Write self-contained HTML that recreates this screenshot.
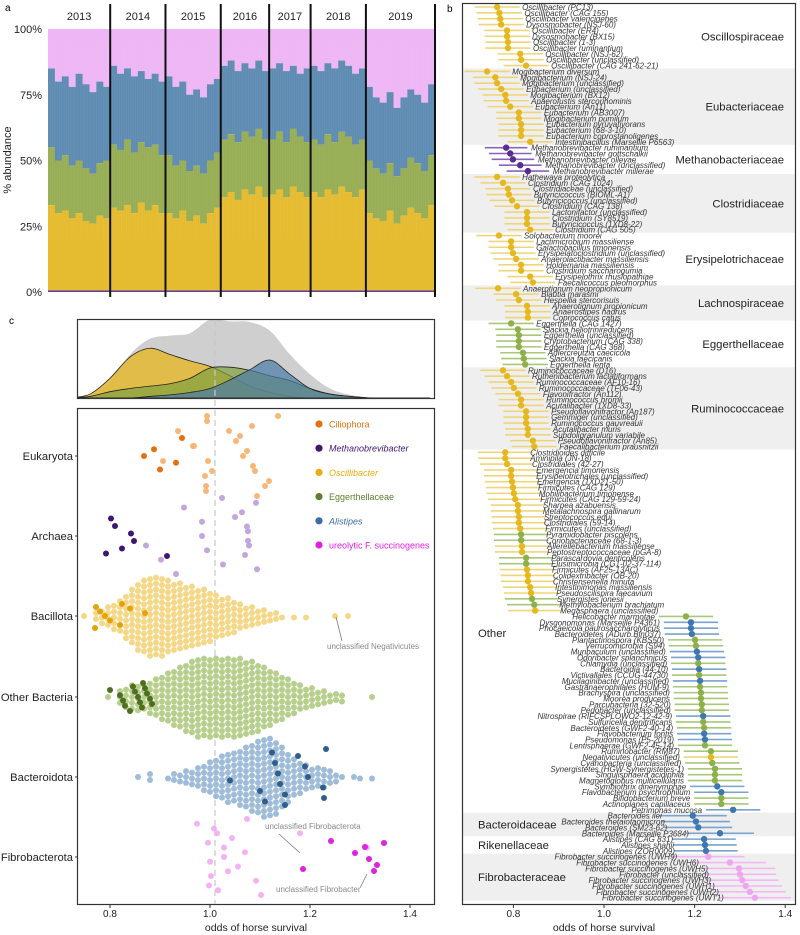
<!DOCTYPE html>
<html><head><meta charset="utf-8"><style>
html,body{margin:0;padding:0;background:#fff}
svg{display:block;font-family:"Liberation Sans",sans-serif}
</style></head><body>
<svg id="fig" width="800" height="935" viewBox="0 0 800 935" xmlns="http://www.w3.org/2000/svg">
<text x="5" y="11" font-size="10">a</text>
<text x="447" y="12" font-size="10">b</text>
<text x="9" y="324" font-size="10">c</text>
<g id="pa"></g>
<g id="pb"></g>
<g id="pc"></g>
</svg>
<script>
// ---------- Panel a data ----------
const years = ['2013','2014','2015','2016','2017','2018','2019'];
const yearSamples = [9,8,8,7,6,8,10];
const yellowTop = [33,30,31,28,30,27,26,29,28, 32,31,33,30,34,31,33,30, 30,28,31,27,29,26,30,32, 36,38,35,39,37,40,36, 37,39,36,40,38,36, 38,36,39,37,40,38,36,39, 30,28,27,31,26,29,32,30,28,33];
const greenTop = [55,50,52,48,50,47,45,49,50, 56,54,58,53,57,55,56,52, 52,48,50,46,48,45,50,53, 58,60,57,61,59,62,58, 58,61,57,62,59,57, 58,56,60,57,61,59,56,58, 50,47,45,49,44,47,51,49,46,52];
const blueTop = [85,80,82,78,83,79,76,80,78, 86,83,85,82,84,81,83,80, 82,78,80,75,77,74,79,81, 86,88,84,87,85,88,84, 85,87,84,86,83,85, 86,84,87,85,88,86,83,85, 78,74,72,76,70,74,77,75,72,79];
const pctTicks = ['0%','25%','50%','75%','100%'];

// ---------- Panel b data ----------
const bGroups = ['Oscillospiraceae','Eubacteriaceae','Methanobacteriaceae','Clostridiaceae','Erysipelotrichaceae','Lachnospiraceae','Eggerthellaceae','Ruminococcaceae','Other','Bacteroidaceae','Rikenellaceae','Fibrobacteraceae'];
const bGroupCounts = [11,13,5,10,9,6,8,14,62,4,3,8];
const bGroupCI = [0.05,0.05,0.047,0.05,0.05,0.05,0.05,0.05,0.06,0.075,0.07,0.08];
const bNames = ['Oscillibacter (PC13)','Oscillibacter (CAG 155)','Oscillibacter valericigenes','Dysosmobacter (NSJ-60)','Oscillibacter (ER4)','Dysosmobacter (BX15)','Oscillibacter (1-3)','Oscillibacter ruminantium','Oscillibacter (NSJ-62)','Oscillibacter (unclassified)','Oscillibacter (CAG 241-62-21)',
'Mogibacterium diversum','Mogibacterium (NSJ-24)','Mogibacterium (unclassified)','Eubacterium (unclassified)','Mogibacterium (BX12)','Anaerofustis stercorihominis','Eubacterium (An11)','Eubacterium (AB3007)','Mogibacterium pumilum','Eubacterium pyruvativorans','Eubacterium (68-3-10)','Eubacterium coprostanoligenes','Intestinibacillus (Marseille P6563)',
'Methanobrevibacter ruminantium','Methanobrevibacter gottschalkii','Methanobrevibacter olleyae','Methanobrevibacter (unclassified)','Methanobrevibacter millerae',
'Hathewaya proteolytica','Clostridium (CAG 1024)','Clostridiaceae (unclassified)','Butyricicoccus (BIOML-A1)','Butyricicoccus (unclassified)','Clostridium (CAG 138)','Lactonifactor (unclassified)','Clostridium (SY8519)','Butyricicoccus (1XD8-22)','Clostridium (CAG 505)',
'Solobacterium moorei','Lactimicrobium massiliense','Galactobacillus timonensis','Erysipelatoclostridium (unclassified)','Anaerolactibacter massiliensis','Holdemania massiliensis','Clostridium saccharogumia','Erysipelothrix rhusiopathiae','Faecalicoccus pleomorphus',
'Anaerotignum neopropionicum','Blautia marasmi','Hespellia stercorisuis','Anaerotignum propionicum','Anaerostipes hadrus','Coprococcus catus',
'Eggerthella (CAG 1427)','Slackia heliotrinireducens','Eggerthella (unclassified)','Cryptobacterium (CAG 338)','Eggerthella (CAG 368)','Adlercreutzia caecicola','Slackia faecicanis','Eggerthella lenta',
'Ruminococcaceae (D16)','Ruthenibacterium lactatiformans','Ruminococcaceae (AF10-16)','Ruminococcaceae (TF06-43)','Flavonifractor (An112)','Ruminococcus bromii','Acutalibacter (1XD8-33)','Pseudoflavonifractor (An187)','Gemmiger (unclassified)','Ruminococcus gauvreauii','Acutalibacter muris','Subdoligranulum variabile','Pseudoflavonifractor (An85)','Faecalibacterium prausnitzii',
'Clostridioides difficile','Aminipila (JN-18)','Clostridiales (42-27)','Emergencia timonensis','Erysipelotrichales (unclassified)','Emergencia (1XD21-50)','Firmicutes (CAG 129)','Mobilibacterium timonense','Firmicutes (CAG 129-59-24)','Sharpea azabuensis','Metalachnospira gallinarum','Streptococcus equi','Clostridiales (59-14)','Firmicutes (unclassified)','Pyramidobacter piscolens','Coriobacteriaceae (68-1-3)','Allerellebacterium massiliense','Peptostreptococcaceae (pGA-8)','Parascardovia denticolens','Elusimicrobia (CG1-02-37-114)','Firmicutes (AF25-13AC)','Colidextribacter (OB-20)','Christensenella minuta','Intestinimonas massiliensis','Pseudoscilispira faecavium','Synergistes jonesii','Methylobacterium brachiatum','Megasphaera (unclassified)',
'Helicobacter marmotae','Dysgonomonas (Marseille P4361)','Phocaeicola paurosaccharolyticus','Bacteroidetes (ADurb.Bin037)','Plantactinospora (KBS50)','Verrucomicrobia (S94)','Muribaculum (unclassified)','Odoribacter splanchnicus','Chlamydia (unclassified)','Bacteroidia (44-10)','Victivallales (CCUG-44730)','Mucilaginibacter (unclassified)','Gastranaerophilales (HUM-9)','Brachyspira (unclassified)','Moorea producens','Parcubacteria (32-520)','Pedobacter (unclassified)','Nitrospirae (RIFCSPLOWO2-12-42-9)','Sulfuricella denitrificans','Bacteroidetes (GWF2-40-14)','Flavobacterium fontis','Pseudomonas (P5-2019)','Lentisphaerae (GWF2-45-14)','Ruminobacter (RM87)','Negativicutes (unclassified)','Cyanobacteria (unclassified)','Synergistetes (HGW-Synergistetes-1)','Singulisphaera acidiphila','Magnetoglobus multicellularis','Symbiothrix dinenymphae','Flavobacterium psychrophilum','Bifidobacterium breve','Actinoplanes capillaceus','Petrimonas mucosa',
'Bacteroides ilei','Bacteroides thetaiotaomicron','Bacteroides (SM23-62)','Bacteroides (Marseille P3684)',
'Alistipes (CAG 831)','Alistipes shahii','Alistipes (ZOR0009)',
'Fibrobacter succinogenes (UWH9)','Fibrobacter succinogenes (UWH6)','Fibrobacter succinogenes (UWH5)','Fibrobacter (unclassified)','Fibrobacter succinogenes (UWH3)','Fibrobacter succinogenes (UWH1)','Fibrobacter succinogenes (UWH2)','Fibrobacter succinogenes (UWT1)'];
const bEst = [0.764,0.769,0.771,0.773,0.786,0.786,0.788,0.788,0.815,0.817,0.828,
0.742,0.760,0.764,0.773,0.782,0.784,0.793,0.812,0.812,0.817,0.817,0.817,0.837,
0.784,0.793,0.799,0.815,0.832,
0.764,0.777,0.788,0.790,0.797,0.808,0.830,0.830,0.830,0.837,
0.768,0.795,0.795,0.799,0.806,0.817,0.817,0.837,0.843,
0.766,0.806,0.812,0.830,0.832,0.832,
0.795,0.810,0.812,0.812,0.812,0.821,0.823,0.826,
0.777,0.786,0.795,0.801,0.810,0.817,0.817,0.828,0.828,0.828,0.832,0.832,0.843,0.846,
0.782,0.782,0.786,0.795,0.795,0.797,0.799,0.801,0.804,0.810,0.810,0.812,0.812,0.815,0.817,0.817,0.819,0.819,0.828,0.828,0.830,0.832,0.832,0.837,0.839,0.841,0.846,0.848,
1.181,1.192,1.192,1.194,1.201,1.203,1.205,1.208,1.208,1.210,1.210,1.212,1.212,1.214,1.214,1.216,1.216,1.219,1.219,1.221,1.221,1.223,1.223,1.236,1.236,1.239,1.245,1.245,1.245,1.250,1.259,1.259,1.259,1.285,
1.196,1.203,1.208,1.256,
1.221,1.223,1.225,
1.230,1.278,1.298,1.300,1.305,1.313,1.322,1.333];
const bCol = 'yyyyyyyyyyy'+'yyyyyyyyyyyyy'+'ppppp'+'yyyyyyyyyy'+'yyyyyyyyy'+'yyyyyy'+'gggggggg'+'yyyyyyyyyyyyyy'+
'yyyyyyyyyyyyyyggyyggyyyyyggy'+'gbbbggbbgbgbgggggbggbbggyggggbbggb'+'bbbb'+'bbb'+'mmmmmmmm';
const bTicks = [0.8,1.0,1.2,1.4];

// ---------- Panel c data ----------
const densGrid = [0.72,0.76,0.80,0.84,0.88,0.92,0.96,1.00,1.04,1.08,1.12,1.16,1.20,1.24,1.28,1.32,1.36,1.40,1.44];
const densAll = [0,0.03,0.2,0.55,0.75,0.79,0.82,0.99,0.97,0.96,0.85,0.55,0.3,0.12,0.04,0.01,0,0,0];
const densOsc = [0,0.05,0.25,0.52,0.63,0.55,0.47,0.4,0.28,0.15,0.07,0.02,0,0,0,0,0,0,0];
const densEgg = [0,0.02,0.08,0.12,0.15,0.18,0.25,0.38,0.39,0.35,0.28,0.22,0.12,0.05,0.02,0,0,0,0];
const densAli = [0,0,0,0,0.02,0.04,0.07,0.12,0.23,0.36,0.48,0.3,0.12,0.05,0.02,0,0,0,0];
const swarmRows = ['Eukaryota','Archaea','Bacillota','Other Bacteria','Bacteroidota','Fibrobacterota'];
const bacillotaStart = 0.748;
const bacillotaCounts = [1,0,2,3,4,5,6,8,10,12,13,14,14,14,13,12,12,11,11,10,10,9,8,7,7,6,5,4,4,3,3,2,2,1,0,1,0,1,0,0,0,0,0,0,1];
const otherStart = 0.796;
const otherCounts = [1,0,3,4,5,5,5,6,7,8,9,10,11,12,13,14,14,14,14,14,14,14,14,13,13,12,11,10,9,8,7,6,5,4,4,3,3,2,2,2,0,0,0,0,1];
const bacteroStart = 0.856;
const bacteroCounts = [1,0,2,0,0,1,2,2,3,3,4,5,6,7,8,9,9,10,11,12,13,14,14,13,11,9,7,6,5,4,4,4,3,2,1,0,1,1,0,1];
const eukLight = [1.004,0.992,0.994,1.038,0.968,0.996,0.99,0.992,0.994,1.06,1.074,1.086,1.118,1.094,1.084,1.052,1.066,1.09,1.11,1.136,0.936,0.966,0.906];
const eukDark = [0.888,0.868,0.932,0.9,0.944];
const arcLight = [0.872,0.902,0.932,0.948,0.984,0.984,0.994,1.026,1.024,1.064,1.074,1.076,1.07,1.094,1.092,1.05,1.076,1.078];
const arcDark = [0.792,0.802,0.81,0.842,0.848,0.824,0.914];
const bacDark = [0.77,0.772,0.78,0.79,0.8,0.82,0.824,0.84,0.87];
const othDark = [0.80,0.82,0.826,0.83,0.84,0.846,0.85,0.856,0.86,0.864,0.866,0.87,0.874,0.88,0.884];
const bctDark = [1.04,1.1,1.11,1.124,1.13,1.136,1.14,1.15,1.15,1.176,1.19,1.196,1.226,1.228,1.232];
const fibLight = [1.014,1.028,1.0,1.002,1.016,0.974,1.044,1.07,1.056,1.092,1.102,1.008,0.996,1.028,1.036,0.998,1.074,1.18,1.314];
const fibDark = [1.186,1.242,1.31,1.29,1.318,1.334,1.328,1.348];
const legendLabels = ['Ciliophora','Methanobrevibacter','Oscillibacter','Eggerthellaceae','Alistipes','ureolytic F. succinogenes'];
const cTicks = [0.8,1.0,1.2,1.4];

const NS='http://www.w3.org/2000/svg';
function mk(parent,tag,attrs,txt){const e=document.createElementNS(NS,tag);for(const k in attrs)e.setAttribute(k,attrs[k]);if(txt!==undefined)e.textContent=txt;parent.appendChild(e);return e;}

// ===== Panel a =====
(function(){
const g=document.getElementById('pa');
const x0=48,x1=435,yT=29,yB=292;
const N=yellowTop.length, bw=(x1-x0)/N;
const Y=p=>yB-(yB-yT)*p/100;
for(let i=0;i<N;i++){
  const x=x0+i*bw;
  const r1=mk(g,'rect',{x:x,y:Y(100),width:bw+0.6,height:Y(blueTop[i])-Y(100),fill:'#eeb6f5'});
  
  
  const r2=mk(g,'rect',{x:x,y:Y(blueTop[i]),width:bw+0.6,height:Y(greenTop[i])-Y(blueTop[i]),fill:'#5f8cb3'});
  
  
  const r3=mk(g,'rect',{x:x,y:Y(greenTop[i]),width:bw+0.6,height:Y(yellowTop[i])-Y(greenTop[i]),fill:'#98ae55'});
  
  
  const r4=mk(g,'rect',{x:x,y:Y(yellowTop[i]),width:bw+0.6,height:Y(0.6)-Y(yellowTop[i]),fill:'#e5bb30'});
  
  
}
mk(g,'rect',{x:x0,y:Y(0.6),width:x1-x0,height:Y(0)-Y(0.6),fill:'#6a3c9a'});
for(let i=0;i<N*3;i++){const x=x0+i*bw/3;mk(g,'line',{x1:x,y1:Y(95),x2:x,y2:Y(20),stroke:'#fff','stroke-opacity':0.06,'stroke-width':0.7});}
pctTicks.forEach((t,i)=>{const tx=mk(g,'text',{x:42,y:Y(i*25)+4,'font-size':11,'text-anchor':'end',fill:'#222'},t);

});
const yl=mk(g,'text',{x:11,y:160,'font-size':11,'text-anchor':'middle',transform:'rotate(-90 11 160)',fill:'#222'},'% abundance');


let cum=0;
years.forEach((yr,i)=>{
  const xa=x0+cum*bw; cum+=yearSamples[i]; const xb=x0+cum*bw;
  const t=mk(g,'text',{x:(xa+xb)/2,y:20,'font-size':11,'text-anchor':'middle',fill:'#222'},yr);
  
  
  const l=mk(g,'line',{x1:xb,y1:4,x2:xb,y2:297,stroke:'#111','stroke-width':2});
  
  
});
})();

// ===== Panel b =====
(function(){
const g=document.getElementById('pb');
const X=v=>604+(v-1)*453;
const rowY=i=>7+i*5.86;
const colors={y:['#e6b820','#efd57a'],g:['#8db04a','#a9c779'],b:['#3f78b0','#7aa3cd'],p:['#5a2b91','#8a63b8'],m:['#f0a5f0','#f3b8f3']};
let idx=0;
const groupCI=[];
bGroups.forEach((name,gi)=>{
  const n=bGroupCounts[gi]; const ya=rowY(idx)-3, yb=rowY(idx+n-1)+3;
  if(gi%2===1){const r=mk(g,'rect',{x:463,y:ya,width:332,height:yb-ya,fill:'#efefef'});
    
    }
  for(let k=0;k<n;k++)groupCI.push(bGroupCI[gi]);
  const right = gi<8;
  const ty = gi===8 ? 637 : (ya+yb)/2+4;
  const lbl=mk(g,'text',{x:right?784:478,y:ty,'font-size':11.3,'text-anchor':right?'end':'start',fill:'#222'},name);
  
  
  idx+=n;
});
bNames.forEach((nm,i)=>{
  const c=colors[bCol[i]]; const y=rowY(i); const x=X(bEst[i]); const h=groupCI[i]*453;
  const l=mk(g,'line',{x1:x-h,y1:y,x2:x+h,y2:y,stroke:c[1],'stroke-width':1.6});
  
  
  const d=mk(g,'circle',{cx:x,cy:y,r:3.2,fill:c[0]});
  
  
  const left=bEst[i]<1.1;
  const t=mk(g,'text',{x:left?x+25:x-31,y:y+3,'font-size':8,'font-style':'italic','text-anchor':left?'start':'end',fill:'#333'},nm);
  
  
});
const box=mk(g,'rect',{x:462.5,y:3.5,width:333,height:901,fill:'none',stroke:'#333','stroke-width':1.2});


bTicks.forEach(v=>{mk(g,'line',{x1:X(v),y1:905,x2:X(v),y2:908,stroke:'#333'});
  const t=mk(g,'text',{x:X(v),y:917,'font-size':10,'text-anchor':'middle',fill:'#222'},v.toFixed(1));
  
  });
const xt=mk(g,'text',{x:604,y:931,'font-size':10.5,'text-anchor':'middle',fill:'#222'},'odds of horse survival');


})();

// ===== Panel c =====
(function(){
const g=document.getElementById('pc');
const X=v=>210+(v-1)*500;
const dB=398,dH=79;
function path(arr){
  const pts=densGrid.map((v,i)=>[X(v),dB-arr[i]*dH]);
  let d='M'+pts[0][0]+','+dB+' L'+pts[0][0]+','+pts[0][1];
  for(let i=0;i<pts.length-1;i++){
    const p0=pts[Math.max(0,i-1)],p1=pts[i],p2=pts[i+1],p3=pts[Math.min(pts.length-1,i+2)];
    const c1=[p1[0]+(p2[0]-p0[0])/6,p1[1]+(p2[1]-p0[1])/6],c2=[p2[0]-(p3[0]-p1[0])/6,p2[1]-(p3[1]-p1[1])/6];
    d+=` C${c1[0]},${Math.min(dB,c1[1])} ${c2[0]},${Math.min(dB,c2[1])} ${p2[0]},${p2[1]}`;
  }
  return d+' L'+pts[pts.length-1][0]+','+dB+' Z';
}
const clip=mk(g,'clipPath',{id:'dclip'});mk(clip,'rect',{x:77,y:318,width:358,height:80});
const dg=mk(g,'g',{'clip-path':'url(#dclip)'});
const a1=mk(dg,'path',{d:path(densAll),fill:'#cfcfcf'});


const a2=mk(dg,'path',{d:path(densOsc),fill:'#e2b93a','fill-opacity':0.9,stroke:'#222','stroke-width':0.8});


const a3=mk(dg,'path',{d:path(densEgg),fill:'#7f9f3e','fill-opacity':0.7,stroke:'#222','stroke-width':0.8});


const a4=mk(dg,'path',{d:path(densAli),fill:'#4a7aa6','fill-opacity':0.7,stroke:'#222','stroke-width':0.8});


const f1=mk(g,'rect',{x:77.5,y:319.5,width:357,height:79,fill:'none',stroke:'#333','stroke-width':1.2});


const f2=mk(g,'rect',{x:77.5,y:408.5,width:357,height:496,fill:'none',stroke:'#333','stroke-width':1.2});


const dl=mk(g,'line',{x1:X(1.01),y1:320,x2:X(1.01),y2:904,stroke:'#c8c8c8','stroke-width':1.2,'stroke-dasharray':'6,4'});


const rowYs=[456,536,616,697,777,857];
swarmRows.forEach((r,i)=>{
  const t=mk(g,'text',{x:73,y:rowYs[i]+4,'font-size':11.2,'text-anchor':'end',fill:'#222'},r);
  
  
  mk(g,'line',{x1:75,y1:rowYs[i],x2:78,y2:rowYs[i],stroke:'#333'});
});
function dot(x,y,c,name){const d=mk(g,'circle',{cx:x,cy:y,r:3,fill:c});
  
  }
function swarm(start,counts,yc,col,name){
  counts.forEach((n,j)=>{const x=X(start+j*0.012);for(let k=0;k<n;k++){dot(x,yc+(k-(n-1)/2)*5.9+(j%2?1.5:0),col,name);}});
}
function scatter(vals,yc,col,name,seed,spread){
  vals.forEach((v,i)=>{const jy=(((i*37+seed*11)%17)-8)/8*spread;dot(X(v),yc+jy,col,name);});
}
swarm(bacillotaStart,bacillotaCounts,616,'#f4d888','bacillota-point');
dot(X(1.25),616,'#f4d888','bacillota-point');
scatter(bacDark,616,'#e3a30a','oscillibacter-point',3,12);
swarm(otherStart,otherCounts,697,'#b6cf8b','other-bacteria-point');
scatter(othDark,697,'#4f6f20','eggerthellaceae-point',5,14);
swarm(bacteroStart,bacteroCounts,777,'#9fbcd9','bacteroidota-point');
scatter(bctDark,777,'#2f5d8c','alistipes-point',7,28);
scatter(eukLight,456,'#f8b679','eukaryota-point',1,40);
scatter(eukDark,456,'#e5700e','ciliophora-point',2,18);
scatter(arcLight,536,'#c2a6dc','archaea-point',4,38);
scatter(arcDark,536,'#3f1670','methanobrevibacter-point',6,20);
scatter(fibLight,857,'#f3b3f3','fibrobacterota-point',8,38);
scatter(fibDark,857,'#e021e0','f-succinogenes-point',9,16);
function ann(txt,tx,ty,lx1,ly1,lx2,ly2){
  mk(g,'line',{x1:lx1,y1:ly1,x2:lx2,y2:ly2,stroke:'#777','stroke-width':0.8});
  const t=mk(g,'text',{x:tx,y:ty,'font-size':8,fill:'#888'},txt);
  
  
}
ann('unclassified Negativicutes',327,649,336,617,342,641);
ann('unclassified Fibrobacterota',265,829,279,834,300,853);
ann('unclassified Fibrobacter',276,892,367,874,360,888);
const legCols=['#e5700e','#3f1670','#e8ad10','#5e7f2c','#3d6d9e','#e021e0'];
legendLabels.forEach((l,i)=>{
  const y=424+i*24.2;
  const c=mk(g,'circle',{cx:319,cy:y,r:3.6,fill:legCols[i]});
  
  
  const t=mk(g,'text',{x:329,y:y+3.5,'font-size':9,fill:legCols[i],'font-style':(i===1||i===2||i===4)?'italic':'normal'},l);
  
  
});
cTicks.forEach(v=>{mk(g,'line',{x1:X(v),y1:905,x2:X(v),y2:908,stroke:'#333'});
  const t=mk(g,'text',{x:X(v),y:917,'font-size':10,'text-anchor':'middle',fill:'#222'},v.toFixed(1));
  
  });
const xt=mk(g,'text',{x:256,y:931,'font-size':10.5,'text-anchor':'middle',fill:'#222'},'odds of horse survival');


})();
</script>
</body></html>
